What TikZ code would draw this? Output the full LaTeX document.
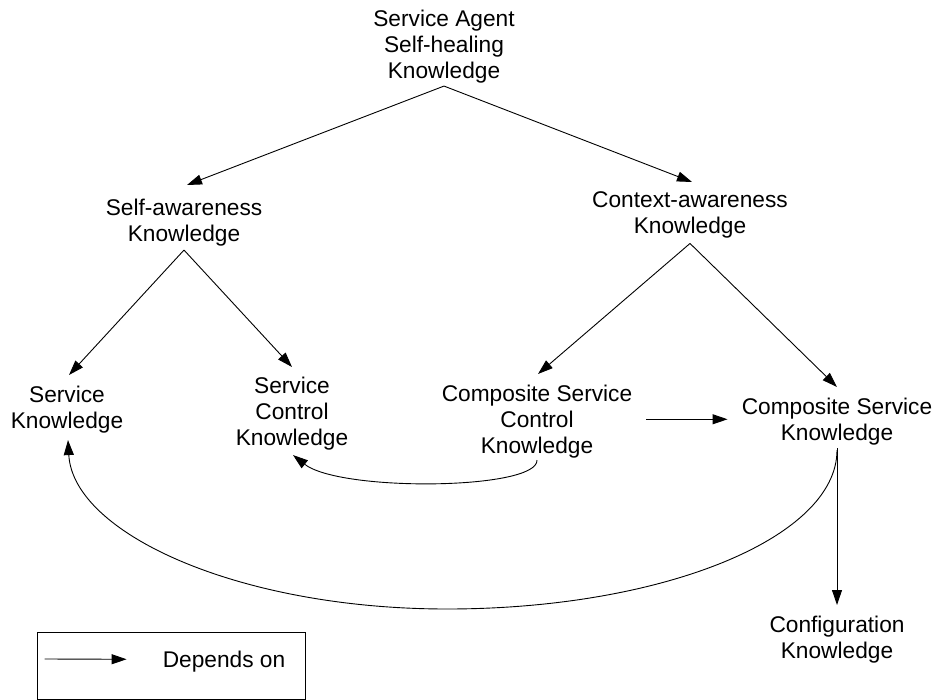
\documentclass[tikz,border=0pt]{standalone}
\usepackage{fontspec}
\setmainfont{Liberation Sans}
\usetikzlibrary{arrows.meta}
\begin{document}
\begin{tikzpicture}[x=1pt,y=-1pt,
  know/.style={anchor=north, inner sep=0pt, align=center,
               font=\fontsize{22.7}{26}\selectfont},
  dep/.style={line width=0.9pt, -{Triangle[length=15pt,width=10pt]}},
  keybox/.style={draw, line width=0.9pt, inner sep=0pt,
                 minimum width=268pt, minimum height=67pt},
]
\useasboundingbox (0,0) rectangle (936,700);

% knowledge items
\node[know] (top)  at (444,9.5)   {Service Agent\\Self-healing\\Knowledge};
\node[know] (sa)   at (184,198.5) {Self-awareness\\Knowledge};
\node[know] (ca)   at (690,191.5) {Context-awareness\\Knowledge};
\node[know] (sk)   at (67,385.5)  {Service\\Knowledge};
\node[know] (sck)  at (292,376.5) {Service\\Control\\Knowledge};
\node[know] (csck) at (537,384.5) {Composite Service\\Control\\Knowledge};
\node[know] (csk)  at (837,397.5) {Composite Service\\Knowledge};
\node[know] (conf) at (837,615.5) {Configuration\\Knowledge};

% dependencies
\draw[dep] ([yshift=-3pt]top.south) -- ([xshift=3pt,yshift=13.5pt]sa.north);
\draw[dep] ([yshift=-3pt]top.south) -- ([xshift=2pt,yshift=9.5pt]ca.north);
\draw[dep] ([yshift=-4pt]sa.south) -- ([xshift=2pt,yshift=10.5pt]sk.north);
\draw[dep] ([yshift=-4pt]sa.south) -- ([yshift=9.5pt]sck.north);
\draw[dep] ([yshift=-5pt]ca.south) -- ([xshift=1pt,yshift=10.5pt]csck.north);
\draw[dep] ([yshift=-5pt]ca.south) -- ([yshift=10.5pt]csk.north);
\draw[dep] ([xshift=14pt,yshift=2pt]csck.east) -- ([xshift=-14pt,yshift=2pt]csk.west);
\draw[dep] ([yshift=-3pt]csk.south) -- ([yshift=10.5pt]conf.north);

% curved dependencies below the items
\draw[dep] ([yshift=-2pt]csck.south)
  .. controls +(1,30) and +(47,37) .. ([xshift=1pt,yshift=-5pt]sck.south);
\coordinate (arcbottom) at (447,609);
\draw[dep] ([yshift=-5pt]csk.south)
  .. controls +(0,88) and +(215,0) .. (arcbottom)
  .. controls +(-209,0) and +(5,93) .. ([xshift=1pt,yshift=-7pt]sk.south);

% legend
\node[keybox] (legend) at (171,665.5) {};
\node[know] (deps) at (224,650.5) {Depends on};
\draw[dep] ([xshift=8pt,yshift=6.5pt]legend.west) -- ([xshift=-36pt,yshift=2pt]deps.west);
\end{tikzpicture}
\end{document}
